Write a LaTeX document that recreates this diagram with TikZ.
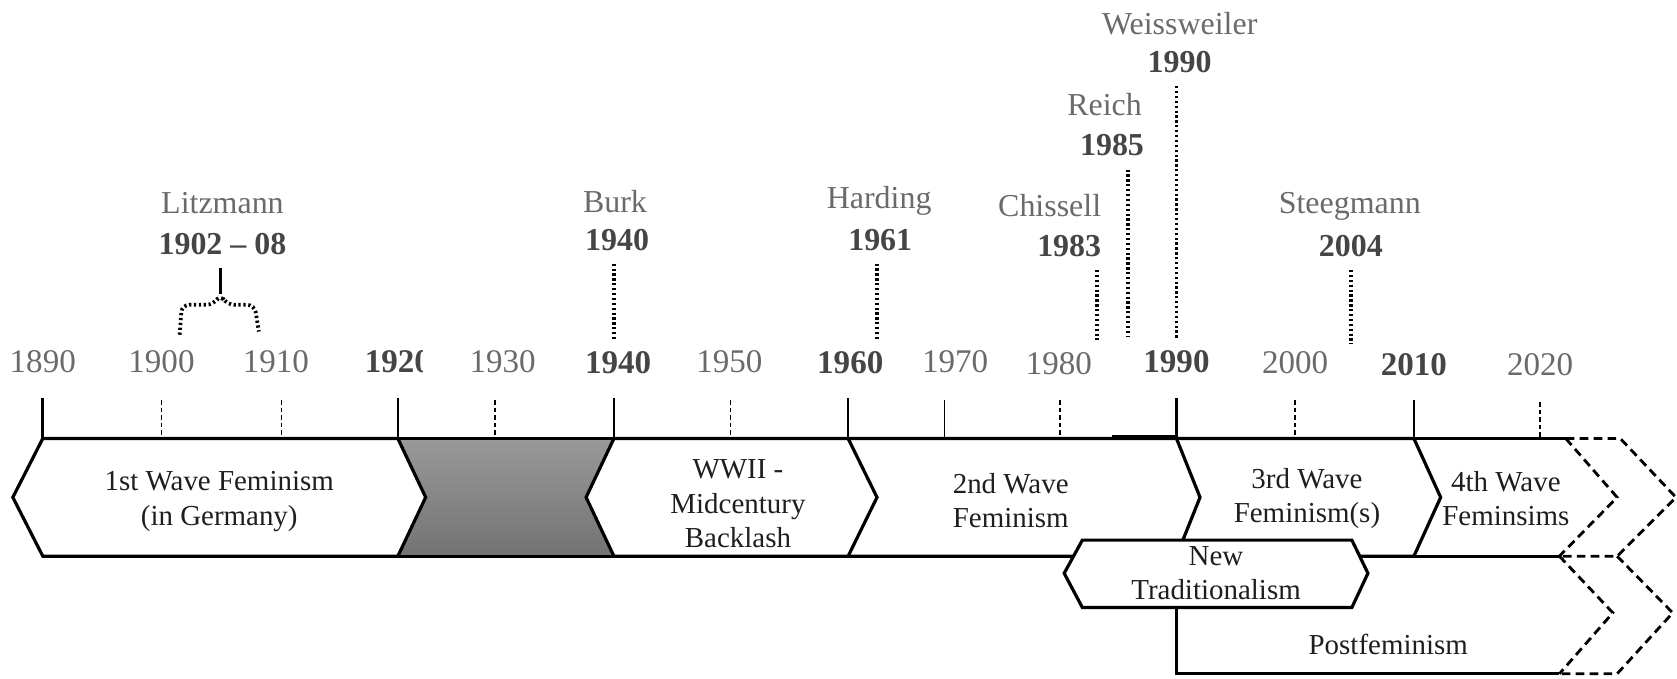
\documentclass[tikz,border=0pt]{standalone}
\usepackage{fontspec}
\setmainfont{Liberation Serif}
\usepackage{xcolor}
\usepackage{tikz}

\definecolor{lblgray}{HTML}{6A6A6A}
\definecolor{yrgray}{HTML}{454545}
\definecolor{boxtext}{HTML}{1E1E1E}

\begin{document}
\begin{tikzpicture}[
  yearlbl/.style={text=lblgray, font=\fontsize{8.8}{10}\selectfont},
  boldlbl/.style={text=yrgray, font=\fontsize{8.8}{10}\selectfont\bfseries},
  namelbl/.style={text=lblgray, font=\fontsize{8.5}{10}\selectfont},
  nameyr/.style={text=yrgray, font=\fontsize{8.5}{10}\selectfont\bfseries},
  wavetext/.style={text=boxtext, align=center, font=\fontsize{7.7}{9.1}\selectfont},
  band/.style={line width=0.85pt, line join=miter},
  major/.style={line width=0.7pt},
  minor/.style={line width=0.4pt, dash pattern=on 1.2pt off 0.8pt},
  dotline/.style={line width=1pt, dash pattern=on 0.6pt off 0.7pt},
  openend/.style={line width=0.75pt, dash pattern=on 2.3pt off 1.4pt}
]
\useasboundingbox (0,0) rectangle (15.68,6.34);

% year labels above the axis
\node[yearlbl] (y1890) at (0.40,2.96) {1890};
\node[yearlbl] (y1900) at (1.51,2.96) {1900};
\node[yearlbl] (y1910) at (2.58,2.96) {1910};
\begin{scope}
\clip (3.20,2.60) rectangle (3.95,3.30);
\node[boldlbl] (y1920) at (3.72,2.96) {1920};
\end{scope}
\node[yearlbl] (y1930) at (4.70,2.96) {1930};
\node[boldlbl] (y1940) at (5.78,2.95) {1940};
\node[yearlbl] (y1950) at (6.82,2.96) {1950};
\node[boldlbl] (y1960) at (7.95,2.95) {1960};
\node[yearlbl] (y1970) at (8.93,2.96) {1970};
\node[yearlbl] (y1980) at (9.90,2.94) {1980};
\node[boldlbl] (y1990) at (11.00,2.96) {1990};
\node[yearlbl] (y2000) at (12.11,2.95) {2000};
\node[boldlbl] (y2010) at (13.22,2.93) {2010};
\node[yearlbl] (y2020) at (14.40,2.93) {2020};

% ticks
\draw[major] (0.40,2.62) -- (0.40,2.24);
\draw[minor] (1.51,2.60) -- (1.51,2.24);
\draw[minor] (2.63,2.60) -- (2.63,2.24);
\draw[major] (3.72,2.62) -- (3.72,2.24);
\draw[minor] (4.63,2.60) -- (4.63,2.24);
\draw[major] (5.74,2.62) -- (5.74,2.24);
\draw[minor] (6.83,2.60) -- (6.83,2.24);
\draw[major] (7.93,2.62) -- (7.93,2.24);
\draw[line width=0.45pt] (8.83,2.60) -- (8.83,2.24);
\draw[minor] (9.91,2.60) -- (9.91,2.24);
\draw[major] (11.00,2.62) -- (11.00,2.24);
\draw[minor] (12.11,2.60) -- (12.11,2.24);
\draw[major] (13.22,2.60) -- (13.22,2.24);
\draw[minor] (14.40,2.58) -- (14.40,2.24);

% authors and their years
\node[namelbl] (litz) at (2.08,4.44) {Litzmann};
\node[nameyr] (litzyr) at (2.08,4.06) {1902 -- 08};
\node[namelbl] (burk) at (5.75,4.46) {Burk};
\node[nameyr] (burkyr) at (5.77,4.10) {1940};
\node[namelbl] (hard) at (8.22,4.46) {Harding};
\node[nameyr] (hardyr) at (8.23,4.10) {1961};
\node[namelbl, anchor=east] (chis) at (10.42,4.42) {Chissell};
\node[nameyr, anchor=east] (chisyr) at (10.42,4.04) {1983};
\node[namelbl, anchor=east] (reich) at (10.80,5.36) {Reich};
\node[nameyr, anchor=east] (reichyr) at (10.82,4.98) {1985};
\node[namelbl] (weiss) at (11.03,6.12) {Weissweiler};
\node[nameyr] (weissyr) at (11.03,5.76) {1990};
\node[namelbl] (steeg) at (12.62,4.41) {Steegmann};
\node[nameyr] (steegyr) at (12.63,4.04) {2004};

\coordinate (litzfork) at (2.06,3.59);
\coordinate (burkend) at (5.74,3.16);
\coordinate (hardend) at (8.20,3.16);
\coordinate (chisend) at (10.26,3.16);
\coordinate (reichend) at (10.55,3.19);
\coordinate (weissend) at (11.00,3.16);
\coordinate (steegend) at (12.63,3.12);

\draw[major] (litzfork |- litzyr.south) -- (litzfork);
\draw[dotline, rounded corners=2pt] (1.68,3.21) -- (1.70,3.49) -- (2.00,3.49) -- (litzfork)
  -- (2.12,3.49) -- (2.38,3.49) -- (2.42,3.24);
\draw[dotline] (burkend |- burkyr.south) -- (burkend);
\draw[dotline] (hardend |- hardyr.south) -- (hardend);
\draw[dotline] (chisend |- chisyr.south) -- (chisend);
\draw[dotline] (reichend |- reichyr.south) -- (reichend);
\draw[dotline] (weissend |- weissyr.south) -- (weissend);
\draw[dotline] (steegend |- steegyr.south) -- (steegend);

% gap between the waves
\shade[top color=black!40, bottom color=black!55] (3.72,2.24) -- (5.74,2.24) -- (5.48,1.69)
  -- (5.74,1.14) -- (3.72,1.14) -- (3.98,1.69) -- cycle;
\draw[band] (3.72,2.24) -- (5.74,2.24);
\draw[band] (3.72,1.14) -- (5.74,1.14);

% the waves
\draw[band, fill=white] (0.12,1.69) -- (0.40,2.24) -- (3.72,2.24) -- (3.98,1.69)
  -- (3.72,1.14) -- (0.40,1.14) -- cycle;
\draw[band, fill=white] (5.48,1.69) -- (5.74,2.24) -- (7.93,2.24) -- (8.20,1.69)
  -- (7.93,1.14) -- (5.74,1.14) -- cycle;
\draw[band] (7.93,2.24) -- (11.00,2.24) -- (11.22,1.69) -- (11.00,1.14) -- (7.93,1.14);
\draw[line width=1.1pt] (10.40,2.25) -- (11.00,2.25);
\draw[band] (11.00,2.24) -- (13.22,2.24) -- (13.47,1.69) -- (13.22,1.14) -- (11.00,1.14);
\draw[band] (13.22,2.24) -- (14.64,2.24);
\draw[band] (13.22,1.14) -- (14.58,1.14);

% open ends
\draw[openend] (14.64,2.24) -- (15.12,1.69) -- (14.58,1.14);
\draw[openend] (14.64,2.24) -- (15.15,2.24) -- (15.67,1.69) -- (15.12,1.14) -- (14.58,1.14);
\draw[openend] (14.58,1.14) -- (15.08,0.61) -- (14.58,0.04);
\draw[openend] (15.12,1.14) -- (15.64,0.61) -- (15.12,0.04) -- (14.58,0.04);

% postfeminism
\draw[band] (11.00,0.66) -- (11.00,0.04) -- (14.58,0.04);

% new traditionalism on top
\draw[band, fill=white] (9.95,0.98) -- (10.12,1.29) -- (12.64,1.29) -- (12.79,0.98)
  -- (12.64,0.66) -- (10.12,0.66) -- cycle;

\node[wavetext] (wave1) at (2.05,1.65) {1st Wave Feminism\\(in Germany)};
\node[wavetext] (wwii) at (6.90,1.63) {WWII -\\Midcentury\\Backlash};
\node[wavetext] (wave2) at (9.45,1.66) {2nd Wave\\Feminism};
\node[wavetext] (wave3) at (12.22,1.68) {3rd Wave\\Feminism(s)};
\node[wavetext] (wave4) at (14.08,1.68) {4th Wave\\Feminsims};
\node[wavetext] (newtrad) at (11.37,0.98) {New\\Traditionalism};
\node[wavetext] (postfem) at (12.98,0.31) {Postfeminism};
\end{tikzpicture}
\end{document}
